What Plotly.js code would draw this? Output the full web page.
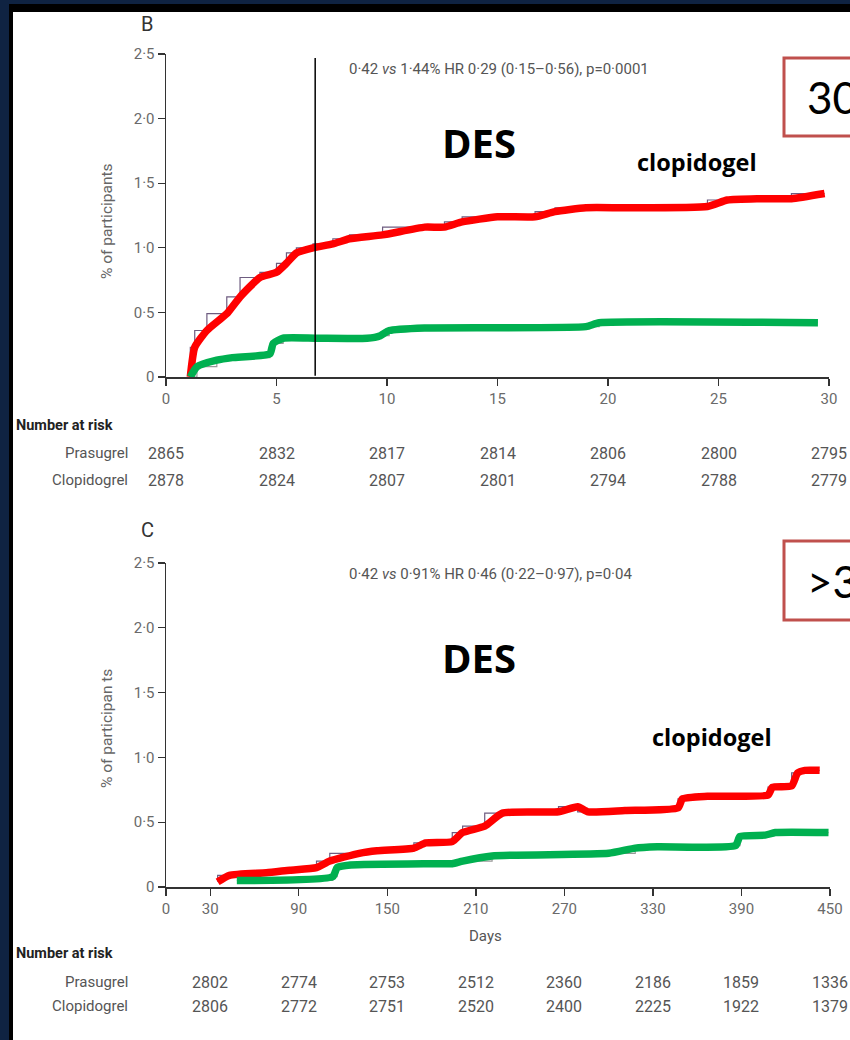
<!DOCTYPE html>
<html>
<head>
<meta charset="utf-8">
<script src="https://cdn.plot.ly/plotly-3.0.1.min.js"></script>
<style>
  html, body { margin: 0; padding: 0; background: #ffffff; }
  #chart { width: 850px; height: 1040px; }
</style>
</head>
<body>
<div id="chart"></div>
<script>
// ---------- Panel B (0-30 days) ----------
const clopDaysB = [1.1, 1.3, 1.85, 2.75, 3.35, 4.25, 5.0, 5.45, 5.9, 6.65, 7.55, 8.3, 9.8, 11.7, 12.6, 13.4, 15.0, 16.7, 17.6, 19.0, 20.8, 24.5, 25.4, 26.8, 28.3, 29.8];
const clopPctB  = [0.0, 0.23, 0.36, 0.49, 0.62, 0.77, 0.81, 0.88, 0.96, 1.0, 1.03, 1.07, 1.10, 1.16, 1.16, 1.20, 1.24, 1.24, 1.28, 1.31, 1.31, 1.32, 1.37, 1.38, 1.38, 1.42];
const prasDaysB = [1.1, 1.4, 2.3, 3.0, 4.7, 4.85, 5.3, 6.8, 9.1, 9.7, 10.1, 11.7, 19.0, 19.6, 29.5];
const prasPctB  = [0.0, 0.08, 0.13, 0.15, 0.18, 0.26, 0.30, 0.30, 0.30, 0.32, 0.36, 0.38, 0.39, 0.42, 0.42];
const xTicksB = [0, 5, 10, 15, 20, 25, 30];
const riskDaysB = [0, 5, 10, 15, 20, 25, 30];
const riskPrasB = [2865, 2832, 2817, 2814, 2806, 2800, 2795];
const riskClopB = [2878, 2824, 2807, 2801, 2794, 2788, 2779];
const statB = "0·42 <i>vs</i> 1·44% HR 0·29 (0·15–0·56), p=0·0001";
const cutoffDayB = 6.75;

// ---------- Panel C (>30 days) ----------
const clopDaysC = [35, 43, 68, 84, 102, 111, 131, 143, 168, 176, 194, 201, 216, 228, 266, 279, 286, 311, 347, 350, 367, 408, 411, 424, 428, 433, 443];
const clopPctC  = [0.04, 0.09, 0.11, 0.13, 0.15, 0.20, 0.26, 0.28, 0.30, 0.34, 0.35, 0.42, 0.47, 0.57, 0.58, 0.62, 0.58, 0.59, 0.61, 0.68, 0.70, 0.71, 0.77, 0.78, 0.88, 0.90, 0.90];
const prasDaysC = [48, 113, 116, 125, 176, 194, 201, 221, 300, 318, 333, 386, 389, 406, 413, 449];
const prasPctC  = [0.05, 0.08, 0.15, 0.17, 0.18, 0.18, 0.20, 0.24, 0.26, 0.30, 0.31, 0.32, 0.39, 0.40, 0.42, 0.42];
const xTicksC = [0, 30, 90, 150, 210, 270, 330, 390, 450];
const riskDaysC = [30, 90, 150, 210, 270, 330, 390, 450];
const riskPrasC = [2802, 2774, 2753, 2512, 2360, 2186, 1859, 1336];
const riskClopC = [2806, 2772, 2751, 2520, 2400, 2225, 1922, 1379];
const statC = "0·42 <i>vs</i> 0·91% HR 0·46 (0·22–0·97), p=0·04";

const yTickVals = [0, 0.5, 1.0, 1.5, 2.0, 2.5];
const yTickText = ["0", "0·5", "1·0", "1·5", "2·0", "2·5"];

// ---------- helpers (pixel -> paper) ----------
const W = 850, H = 1040;
const px = v => v / W;
const py = v => 1 - v / H;

const RED = "#ff0000", GREEN = "#00b050", STEP = "#6e5c80";
const txt = "Roboto, Liberation Sans, sans-serif";
const bold = "Open Sans, Lato, sans-serif";

const traces = [
  {x: clopDaysB, y: clopPctB, xaxis: "x", yaxis: "y", mode: "lines", line: {color: STEP, width: 1.2, shape: "vh"}, hoverinfo: "skip"},
  {x: prasDaysB, y: prasPctB, xaxis: "x", yaxis: "y", mode: "lines", line: {color: "#999999", width: 1.2, shape: "hv"}, hoverinfo: "skip"},
  {x: clopDaysB, y: clopPctB, xaxis: "x", yaxis: "y", mode: "lines", name: "Clopidogrel", line: {color: RED, width: 7.5, shape: "spline", smoothing: 0.5}},
  {x: prasDaysB, y: prasPctB, xaxis: "x", yaxis: "y", mode: "lines", name: "Prasugrel", line: {color: GREEN, width: 7.5, shape: "spline", smoothing: 0.5}},
  {x: clopDaysC, y: clopPctC, xaxis: "x2", yaxis: "y2", mode: "lines", line: {color: STEP, width: 1.2, shape: "vh"}, hoverinfo: "skip"},
  {x: prasDaysC, y: prasPctC, xaxis: "x2", yaxis: "y2", mode: "lines", line: {color: "#999999", width: 1.2, shape: "hv"}, hoverinfo: "skip"},
  {x: clopDaysC, y: clopPctC, xaxis: "x2", yaxis: "y2", mode: "lines", name: "Clopidogrel", line: {color: RED, width: 7.5, shape: "spline", smoothing: 0.5}},
  {x: prasDaysC, y: prasPctC, xaxis: "x2", yaxis: "y2", mode: "lines", name: "Prasugrel", line: {color: GREEN, width: 7.5, shape: "spline", smoothing: 0.5}}
];

const axisCommon = {
  showgrid: false, zeroline: false, showline: true, linecolor: "#333333", linewidth: 1.5,
  ticks: "outside", ticklen: 7, tickwidth: 1.3, tickcolor: "#333333",
  tickfont: {family: txt, size: 15, color: "#6a6a6a"}, fixedrange: true
};

const annotations = [];
function ann(text, x, y, opts) {
  annotations.push(Object.assign({text: text, x: x, y: y, xref: "paper", yref: "paper", showarrow: false,
    xanchor: "center", yanchor: "middle", font: {family: txt, size: 15, color: "#555555"}}, opts || {}));
}

// panel letters
ann("B", px(147), py(24), {font: {family: txt, size: 20, color: "#333333"}});
ann("C", px(147), py(530), {font: {family: txt, size: 20, color: "#333333"}});
// y titles
ann("% of participants", px(107), py(221), {textangle: -90, font: {family: txt, size: 15.5, color: "#666666"}});
ann("% of participan ts", px(107), py(729), {textangle: -90, font: {family: txt, size: 15.5, color: "#666666"}});
// stats
ann(statB, px(347), py(69), {xanchor: "left", font: {family: txt, size: 15, color: "#555555"}});
ann(statC, px(347), py(574), {xanchor: "left", font: {family: txt, size: 15, color: "#555555"}});
// DES / clopidogel
ann("DES", px(479), py(143), {font: {family: bold, size: 40, color: "#000000", weight: "bold"}});
ann("DES", px(479), py(657), {font: {family: bold, size: 40, color: "#000000", weight: "bold"}});
ann("clopidogel", px(697), py(162), {font: {family: bold, size: 23.5, color: "#000000", weight: "bold"}});
ann("clopidogel", px(712), py(737), {font: {family: bold, size: 23.5, color: "#000000", weight: "bold"}});
// boxed labels
ann("30", px(805), py(97), {xanchor: "left", font: {family: "Lato, sans-serif", size: 44, color: "#000000"}});
ann(">3", px(805), py(581), {xanchor: "left", font: {family: "Lato, sans-serif", size: 44, color: "#000000"}});
// Days
ann("Days", px(485), py(936), {font: {family: txt, size: 15, color: "#555555"}});
// Number at risk
ann("Number at risk", px(14), py(425), {xanchor: "left", font: {family: txt, size: 14.5, color: "#222222", weight: "bold"}});
ann("Prasugrel", px(130), py(453), {xanchor: "right"});
ann("Clopidogrel", px(130), py(480), {xanchor: "right"});
ann("Number at risk", px(14), py(953), {xanchor: "left", font: {family: txt, size: 14.5, color: "#222222", weight: "bold"}});
ann("Prasugrel", px(130), py(982), {xanchor: "right"});
ann("Clopidogrel", px(130), py(1006), {xanchor: "right"});

const numFont = {family: txt, size: 16, color: "#555555"};
riskDaysB.forEach((d, i) => {
  annotations.push({text: String(riskPrasB[i]), x: d, xref: "x", y: py(453), yref: "paper", showarrow: false,
    xanchor: "center", yanchor: "middle", font: numFont});
  annotations.push({text: String(riskClopB[i]), x: d, xref: "x", y: py(480), yref: "paper", showarrow: false,
    xanchor: "center", yanchor: "middle", font: numFont});
});
riskDaysC.forEach((d, i) => {
  annotations.push({text: String(riskPrasC[i]), x: d, xref: "x2", y: py(982), yref: "paper", showarrow: false,
    xanchor: "center", yanchor: "middle", font: numFont});
  annotations.push({text: String(riskClopC[i]), x: d, xref: "x2", y: py(1006), yref: "paper", showarrow: false,
    xanchor: "center", yanchor: "middle", font: numFont});
});

const shapes = [
  // frame
  {type: "rect", xref: "paper", yref: "paper", x0: 0, x1: 1, y0: py(12), y1: 1, fillcolor: "#000000", line: {width: 0}, layer: "above"},
  {type: "rect", xref: "paper", yref: "paper", x0: 0, x1: px(13), y0: 0, y1: 1, fillcolor: "#000000", line: {width: 0}, layer: "above"},
  {type: "rect", xref: "paper", yref: "paper", x0: 0, x1: 1, y0: py(4), y1: 1, fillcolor: "#0f2342", line: {width: 0}, layer: "above"},
  {type: "rect", xref: "paper", yref: "paper", x0: 0, x1: px(9), y0: 0, y1: 1, fillcolor: "#0f2342", line: {width: 0}, layer: "above"},
  // cutoff line
  {type: "line", xref: "x", yref: "y", x0: cutoffDayB, x1: cutoffDayB, y0: 0.01, y1: 2.47, line: {color: "#000000", width: 1.5}},
  // boxes
  {type: "rect", xref: "paper", yref: "paper", x0: px(784), x1: px(880), y0: py(136), y1: py(58), line: {color: "#c0504d", width: 3}, fillcolor: "rgba(0,0,0,0)"},
  {type: "rect", xref: "paper", yref: "paper", x0: px(784), x1: px(880), y0: py(620), y1: py(541), line: {color: "#c0504d", width: 3}, fillcolor: "rgba(0,0,0,0)"}
];

const layout = {
  width: W, height: H,
  margin: {l: 0, r: 0, t: 0, b: 0},
  paper_bgcolor: "#ffffff", plot_bgcolor: "rgba(0,0,0,0)",
  showlegend: false,
  xaxis: Object.assign({}, axisCommon, {domain: [px(166), px(829)], range: [0, 30], tickvals: xTicksB, anchor: "y"}),
  yaxis: Object.assign({}, axisCommon, {domain: [py(377), py(54)], range: [0, 2.5], tickvals: yTickVals, ticktext: yTickText, anchor: "x"}),
  xaxis2: Object.assign({}, axisCommon, {domain: [px(166), px(830)], range: [0, 450], tickvals: xTicksC, anchor: "y2"}),
  yaxis2: Object.assign({}, axisCommon, {domain: [py(887), py(563)], range: [0, 2.5], tickvals: yTickVals, ticktext: yTickText, anchor: "x2"}),
  annotations: annotations,
  shapes: shapes
};

Plotly.newPlot("chart", traces, layout, {displayModeBar: false, staticPlot: true});
</script>
</body>
</html>
